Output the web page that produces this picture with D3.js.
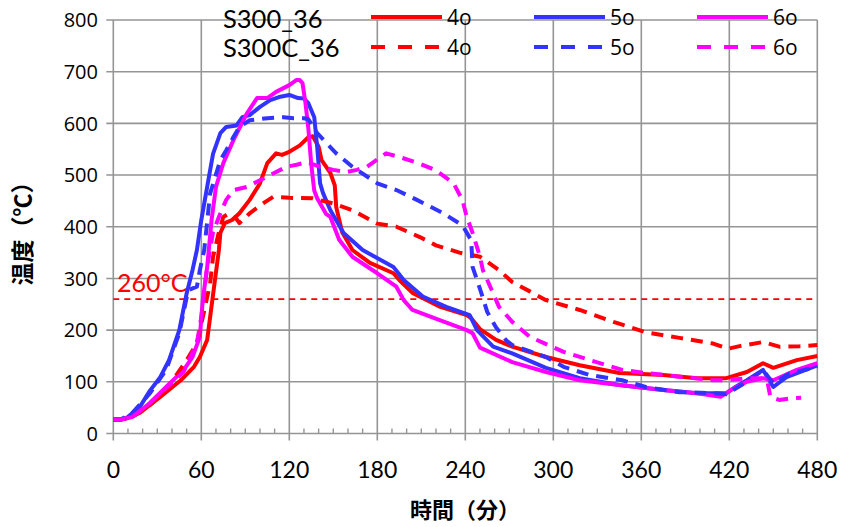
<!DOCTYPE html>
<html><head><meta charset="utf-8">
<script src="https://cdn.jsdelivr.net/npm/d3@7"></script>
<style>body{margin:0;background:#fff}svg{display:block}</style>
</head><body><svg id="c" width="841" height="527"></svg>
<script>
// ---- data (time in minutes, temperature in °C) ----
const xTicks = [0,60,120,180,240,300,360,420,480];
const yTicks = [0,100,200,300,400,500,600,700,800];
const refLine = 260;

const s4_t = [0,5,8,18,32,46,55,59,64,66,69,72,73,76,81,86,93,100,105,111,115,120,127,133,136,140,142,148,151,152,156,163,175,191,195,204,223,241,244,250,261,272,295,318,345,375,398,418,432,443,450,466,480];
const s4_v = [27,27,28,40,71,103,129,148,181,225,290,355,388,407,413,426,452,484,523,542,539,545,557,573,575,555,529,504,480,438,390,355,330,310,297,272,245,229,223,202,181,168,148,132,117,113,107,107,119,136,127,142,150];

const s5_t = [0,5,9,18,25,32,38,45,50,54,57,60,64,68,73,77,84,88,93,100,107,113,120,126,130,133,137,139,141,143,148,157,170,191,198,211,227,243,248,259,272,295,318,345,375,398,418,423,432,443,450,459,480];
const s5_v = [27,27,30,51,83,109,142,200,271,316,355,413,477,541,581,593,596,612,616,632,645,651,655,649,648,639,612,555,484,465,432,388,355,322,297,265,245,229,200,168,155,127,107,94,84,78,78,88,103,123,90,109,132];

const s6_t = [0,5,13,25,36,48,54,59,61,64,67,70,75,82,91,98,105,111,120,125,127,129,131,133,135,137,139,145,148,154,163,180,193,198,204,223,241,245,250,272,295,318,345,375,398,414,421,432,443,450,466,480];
const s6_v = [27,27,32,59,90,123,148,187,258,322,413,477,523,568,619,649,649,661,674,684,684,678,640,590,520,470,455,425,419,375,342,310,284,258,239,219,200,194,166,138,119,103,94,84,78,71,84,100,107,103,123,136];

const c4_t = [0,5,13,25,36,50,57,61,66,68,72,75,79,84,86,93,102,109,120,136,150,163,180,193,209,220,236,250,263,272,284,295,318,341,363,386,409,419,427,443,454,468,480];
const c4_v = [27,27,32,55,84,142,175,225,290,342,390,419,426,415,407,426,445,458,456,455,445,432,406,400,380,364,350,342,316,293,275,258,239,216,196,185,174,164,169,177,168,169,171];

const c5_t = [0,5,13,25,36,45,51,57,59,62,66,73,77,82,86,93,105,116,123,130,133,139,152,163,180,193,207,225,238,244,245,250,255,261,268,272,295,307,325,347,363,386,409,418,432,443,450,461,480];
const c5_v = [27,27,40,78,123,194,277,284,316,355,464,529,548,574,593,606,610,612,610,610,608,581,542,516,484,471,452,426,403,374,322,280,235,205,180,171,148,129,113,103,90,80,78,76,100,123,97,116,129];

const c6_t = [0,5,13,25,36,48,57,60,64,68,73,77,82,91,100,109,118,125,132,141,150,159,166,173,186,195,209,220,232,238,241,245,250,252,257,261,263,272,284,307,325,347,363,386,409,418,432,443,446,448,454,462,469];
const c6_v = [27,27,32,59,88,120,175,225,322,390,426,452,471,477,490,503,516,520,525,516,510,506,510,516,542,535,522,509,484,452,419,388,342,316,284,258,245,216,187,158,142,123,117,110,103,103,107,107,100,71,65,68,69];

const seriesNames = ["4o","5o","6o"];
const groupNames = ["S300_36","S300C_36"];

// ---- layout ----
const svg = d3.select("#c");
const L = 113.3, R = 817.3, T = 20, B = 433.5;
const x = d3.scaleLinear().domain([0,480]).range([L,R]);
const y = d3.scaleLinear().domain([0,800]).range([B,T]);
const grid = "#959595";

const series = [
  {t:s4_t, v:s4_v, color:"#ff0000", dash:null},
  {t:s5_t, v:s5_v, color:"#3333ff", dash:null},
  {t:s6_t, v:s6_v, color:"#ff00ff", dash:null},
  {t:c4_t, v:c4_v, color:"#ff0000", dash:"12,8"},
  {t:c5_t, v:c5_v, color:"#3333ff", dash:"12,8"},
  {t:c6_t, v:c6_v, color:"#ff00ff", dash:"12,8"}
];

// grid
svg.append("g").selectAll("line").data(yTicks).join("line")
  .attr("x1",L-7).attr("x2",R).attr("y1",d=>y(d)).attr("y2",d=>y(d))
  .attr("stroke",grid).attr("stroke-width",1.6);
svg.append("g").selectAll("line").data(xTicks).join("line")
  .attr("x1",d=>x(d)).attr("x2",d=>x(d)).attr("y1",T).attr("y2",B+7)
  .attr("stroke",grid).attr("stroke-width",1.6);
// minor ticks
const minor = d3.range(0,481,10).filter(d=>d%60!==0);
svg.append("g").selectAll("line").data(minor).join("line")
  .attr("x1",d=>x(d)).attr("x2",d=>x(d)).attr("y1",B-5).attr("y2",B)
  .attr("stroke",grid).attr("stroke-width",1.4);

// y labels
svg.append("g").selectAll("text").data(yTicks).join("text")
  .attr("x",98).attr("y",d=>y(d)).attr("dy","0.36em").attr("text-anchor","end")
  .attr("font-family","Open Sans").attr("font-size",20).attr("fill","#000").text(d=>d);
// x labels
svg.append("g").selectAll("text").data(xTicks).join("text")
  .attr("x",d=>x(d)).attr("y",478).attr("text-anchor","middle")
  .attr("font-family","Lato").attr("font-size",23).attr("fill","#000").text(d=>d);

// axis titles
svg.append("text").attr("transform","translate(31,228) rotate(-90)")
  .attr("text-anchor","middle").attr("font-family","Noto Sans CJK JP").attr("font-weight","bold")
  .attr("font-size",23).text("温度（℃）");
svg.append("text").attr("x",465).attr("y",518)
  .attr("text-anchor","middle").attr("font-family","Noto Sans CJK JP").attr("font-weight","bold")
  .attr("font-size",22).text("時間（分）");

// 260 reference line
svg.append("line").attr("x1",L).attr("x2",R).attr("y1",y(refLine)).attr("y2",y(refLine))
  .attr("stroke","#ff0000").attr("stroke-width",1.6).attr("stroke-dasharray","6,5");
svg.append("text").attr("x",117).attr("y",y(refLine)-7)
  .attr("font-family","Lato").attr("font-size",25).attr("fill","#ff0000").text(refLine+"°C");

// data lines
const line = d3.line().x(d=>x(d[0])).y(d=>y(d[1]));
svg.append("g").selectAll("path").data(series).join("path")
  .attr("d",s=>line(s.t.map((t,i)=>[t,s.v[i]])))
  .attr("fill","none").attr("stroke",s=>s.color).attr("stroke-width",4)
  .attr("stroke-linejoin","round")
  .attr("stroke-dasharray",s=>s.dash);

// legend
svg.append("text").attr("x",223).attr("y",28).attr("font-family","Lato").attr("font-size",25.5).text(groupNames[0]);
svg.append("text").attr("x",223).attr("y",57).attr("font-family","Lato").attr("font-size",25.5).text(groupNames[1]);
const legX = [371,534,697];
const legY = [17,47];
const lg = svg.append("g");
series.forEach((s,i)=>{
  const col = i%3, row = Math.floor(i/3);
  lg.append("line").attr("x1",legX[col]).attr("x2",legX[col]+71)
    .attr("y1",legY[row]).attr("y2",legY[row])
    .attr("stroke",s.color).attr("stroke-width",4)
    .attr("stroke-dasharray",s.dash?"14,13":null);
  lg.append("text").attr("x",legX[col]+76).attr("y",legY[row]+8)
    .attr("font-family","Open Sans").attr("font-size",21).text(seriesNames[col]);
});
</script></body></html>
